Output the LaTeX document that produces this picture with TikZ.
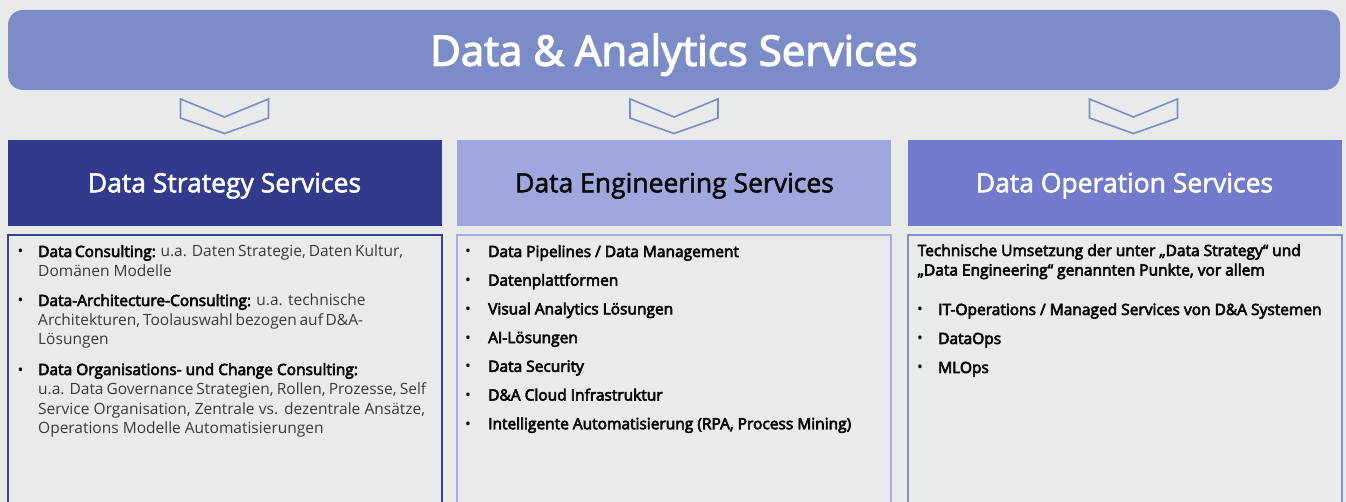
\documentclass[tikz,border=0pt]{standalone}
\usepackage{fontspec}
\setmainfont{Open Sans}
\newfontfamily\semib{Open Sans}[FakeBold=4]
\newfontfamily\titlefont{Open Sans}[FakeBold=3]
\newfontfamily\hdrfont{Open Sans}[FakeBold=2]
\definecolor{bg}{HTML}{E9EBEA}
\definecolor{bannerc}{HTML}{7B8CC8}
\definecolor{hdrA}{HTML}{323A8E}
\definecolor{hdrB}{HTML}{A0A7DE}
\definecolor{hdrC}{HTML}{717ACD}
\definecolor{brdA}{HTML}{3A428F}
\definecolor{brdB}{HTML}{A9AEE4}
\definecolor{brdC}{HTML}{8090CF}
\definecolor{desc}{HTML}{3A3A3A}
\definecolor{ink}{HTML}{0A0A0A}
\begin{document}
\begin{tikzpicture}[x=1pt,y=-1pt,
  bannerbox/.style={fill=bannerc, draw=none, rounded corners=15pt, minimum width=1332pt, minimum height=80pt, inner sep=0pt},
  titletxt/.style={inner sep=0pt, anchor=base, text=white, font=\titlefont\fontsize{42}{48}\selectfont},
  chev/.style={draw=bannerc, line width=1.6pt, line join=miter},
  hdrbox/.style={draw=none, minimum width=434pt, minimum height=86pt, inner sep=0pt},
  hdrtxt/.style={inner sep=0pt, anchor=base, font=\hdrfont\fontsize{26.5}{30}\selectfont},
  frame/.style={line width=2pt},
  bodytxt/.style={inner sep=0pt, anchor=base west, text=ink, font=\fontsize{15.5}{19.5}\selectfont},
  bul/.style={inner sep=0pt, anchor=base, text=ink, font=\fontsize{15.5}{19.5}\selectfont}
]
\useasboundingbox (0,0) rectangle (1346,502);
\fill[bg] (0,0) rectangle (1346,502);

% banner
\node[bannerbox] (banner) at (674,50) {};
\node[titletxt] (title) at (674,65.7) {Data \& Analytics Services};

% chevrons
\foreach \cx in {224.5,674,1133.5}{
  \draw[chev] (\cx-44,99) -- (\cx,117) -- (\cx+44,99) -- (\cx+44,118) -- (\cx,133.5) -- (\cx-44,118) -- cycle;
}

% header boxes
\node[hdrbox, fill=hdrA] (hA) at (225,183.3) {};
\node[hdrbox, fill=hdrB] (hB) at (674,183.3) {};
\node[hdrbox, fill=hdrC] (hC) at (1124.5,183.3) {};
\node[hdrtxt, text=white] (tA) at (224.5,192.3) {Data Strategy Services};
\node[hdrtxt, text=ink] (tB) at (674.5,192.3) {Data Engineering Services};
\node[hdrtxt, text=white] (tC) at (1124.5,192.3) {Data Operation Services};

% content frames
\draw[frame, draw=brdA] (8,503) -- (8,235) -- (442,235) -- (442,503);
\draw[frame, draw=brdB] (457,503) -- (457,235) -- (891,235) -- (891,503);
\draw[frame, draw=brdC] (908,503) -- (908,235) -- (1342,235) -- (1342,503);

% left column
\node[bul] (lb1) at (20.5,257) {•};
\node[bodytxt] (l1) at (38,257) {\parbox[t]{400pt}{\fontsize{15.5}{19.5}\selectfont
  \makebox[364pt][s]{{\semib Data Consulting:} \textcolor{desc}{u.a. Daten Strategie, Daten Kultur,}}\\
  \textcolor{desc}{Domänen Modelle}}};
\node[bul] (lb2) at (20.5,306) {•};
\node[bodytxt] (l2) at (38,306) {\parbox[t]{400pt}{\fontsize{15.5}{19.5}\selectfont
  {\semib Data-Architecture-Consulting:} \textcolor{desc}{u.a. technische}\\
  \textcolor{desc}{\makebox[324pt][s]{Architekturen, Toolauswahl bezogen auf D\&A-}}\\
  \textcolor{desc}{Lösungen}}};
\node[bul] (lb3) at (20.5,375) {•};
\node[bodytxt] (l3) at (38,375) {\parbox[t]{400pt}{\fontsize{15.5}{19.5}\selectfont
  {\semib Data Organisations- und Change Consulting:}\\
  \textcolor{desc}{\makebox[388pt][s]{u.a. Data Governance Strategien, Rollen, Prozesse, Self}}\\
  \textcolor{desc}{\makebox[387pt][s]{Service Organisation, Zentrale vs. dezentrale Ansätze,}}\\
  \textcolor{desc}{Operations Modelle Automatisierungen}}};

% middle column
\node[bul] (mb1) at (468,257) {•};
\node[bodytxt] (m1) at (488,257) {\semib Data Pipelines / Data Management};
\node[bul] (mb2) at (468,285.7) {•};
\node[bodytxt] (m2) at (488,285.7) {\semib Datenplattformen};
\node[bul] (mb3) at (468,314.4) {•};
\node[bodytxt] (m3) at (488,314.4) {\semib Visual Analytics Lösungen};
\node[bul] (mb4) at (468,343.1) {•};
\node[bodytxt] (m4) at (488,343.1) {\semib AI-Lösungen};
\node[bul] (mb5) at (468,371.8) {•};
\node[bodytxt] (m5) at (488,371.8) {\semib Data Security};
\node[bul] (mb6) at (468,400.5) {•};
\node[bodytxt] (m6) at (488,400.5) {\semib D\&A Cloud Infrastruktur};
\node[bul] (mb7) at (468,429.2) {•};
\node[bodytxt] (m7) at (488,429.2) {\semib Intelligente Automatisierung (RPA, Process Mining)};

% right column
\node[bodytxt] (r0) at (917.5,256) {\parbox[t]{420pt}{\fontsize{15.5}{19.5}\selectfont\semib
  Technische Umsetzung der unter „Data Strategy“ und\\
  „Data Engineering“ genannten Punkte, vor allem}};
\node[bul] (rb1) at (920,315) {•};
\node[bodytxt] (r1) at (938,315) {\semib IT-Operations / Managed Services von D\&A Systemen};
\node[bul] (rb2) at (920,344) {•};
\node[bodytxt] (r2) at (938,344) {\semib DataOps};
\node[bul] (rb3) at (920,373) {•};
\node[bodytxt] (r3) at (938,373) {\semib MLOps};
\end{tikzpicture}
\end{document}
